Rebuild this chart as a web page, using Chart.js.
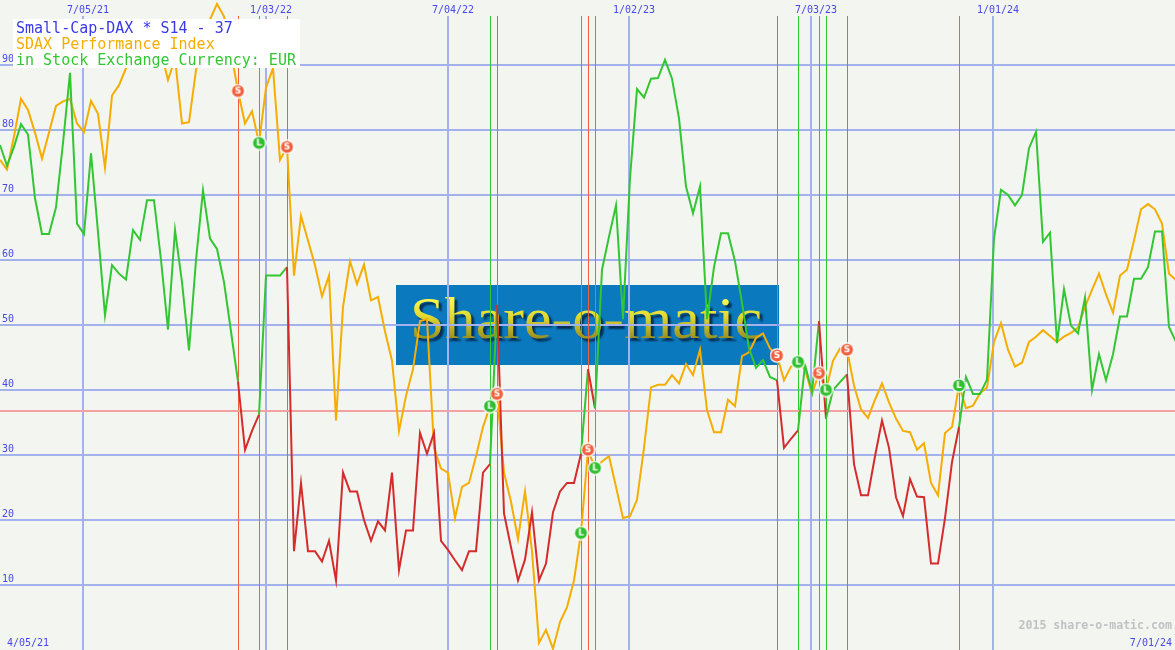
<!DOCTYPE html>
<html><head><meta charset="utf-8">
<script src="https://cdn.jsdelivr.net/npm/chart.js@4/dist/chart.umd.min.js"></script>
<style>html,body{margin:0;padding:0;background:#f3f5f1;overflow:hidden}canvas{display:block}</style>
</head><body>
<div style="width:1175px;height:650px;position:relative"><canvas id="c" width="1175" height="650"></canvas></div>
<script>
// ---- data (x axis in days since 13 Apr 2021; weekly samples) ----
const titleLines = ["Small-Cap-DAX * S14 - 37", "SDAX Performance Index", "in Stock Exchange Currency: EUR"];
const startLabel = "4/05/21";
const endLabel = "7/01/24";
const copyrightText = "2015 share-o-matic.com";
const watermarkText = "Share-o-matic";
const dateTickDays = [83, 266, 448, 629, 811, 993];
const dateTickLabels = ["7/05/21", "1/03/22", "7/04/22", "1/02/23", "7/03/23", "1/01/24"];
const valueTicks = [10, 20, 30, 40, 50, 60, 70, 80, 90];
const daysPerWeek = 7;
const totalDays = 1175;
const thresholdValue = 36.7;

const stockValues = [
77.7,74.5,77.4,80.9,79.3,69.5,64,64,68.1,78,
88.8,65.6,64,76.4,64.3,51.5,59.2,57.9,57,64.6,
63.1,69.2,69.2,60,49.3,64.6,56.6,46.1,60,70.7,
63.3,61.7,56.6,49,41.3,30.8,33.7,36.2,57.6,57.6,
57.6,58.9,15.2,25.7,15.2,15.2,13.6,16.8,10.7,27.3,
24.4,24.4,20,16.8,19.8,18.4,27.3,12.3,18.4,18.4,
33.4,30.2,33.4,16.8,15.4,13.8,12.3,15.2,15.2,27.3,
28.6,53.1,21,15.8,10.7,13.9,21.2,10.7,13.3,21.2,
24.4,25.7,25.7,30.2,43.2,37.2,58.5,63.6,68.4,50.9,
72.6,86.3,85,87.9,88,90.8,87.9,81.8,71.3,67.2,
71.3,50.9,58.9,64.1,64.1,59.8,53.4,46.4,43.4,44.6,
42,41.5,31.1,32.5,33.8,43.9,39.7,50.6,35.6,40,
41.2,42.4,28.6,23.8,23.8,29.8,35.3,31.1,23.5,20.6,
26.3,23.6,23.5,13.3,13.3,20.3,28.9,34.3,42,39.4,
39.4,41.6,63.3,70.8,70,68.4,70,77.2,79.7,62.8,
64.2,47.2,55.5,49.9,48.7,54.2,40,45.5,41.5,45.5,
51.3,51.3,57.1,57.1,58.9,64.4,64.4,49.7,47.4
];
const sdaxValues = [
75.4,73.9,79,84.8,83.1,79.6,75.6,79.6,83.7,84.4,
84.8,81,79.7,84.5,82.5,74.2,85.3,86.9,89.5,92,
95,93,96,92,87.7,91,81,81.2,89.2,94,
97,99.4,97.5,92,86,81,82.9,78,86.5,89.5,
75.4,77.4,57.6,66.8,63,59.2,54.4,57.6,35.3,52.8,
59.8,56.3,59.3,53.8,54.3,49,44.5,33.7,39.1,43.2,
50.6,50.9,31.1,27.9,27.3,20.3,25.1,25.7,29.8,34.3,
37.5,39.4,27.3,22.8,17.1,24.4,15.2,1.1,3.1,0.2,
4.3,6.6,10.7,18,30.8,28,29,29.8,25.1,20.3,
20.6,23.1,31.1,40.4,40.8,40.8,42.3,41,44,42.3,
46.2,36.9,33.5,33.5,38.5,37.5,45.2,45.8,48,48.7,
46.4,45.3,41.5,43.6,44.3,43.2,39.4,42.6,40,44.5,
46.4,46.2,40.7,37,35.7,38.5,41,38.1,35.6,33.7,
33.5,30.8,31.8,25.7,23.8,33.4,34.3,40.7,37.2,37.6,
39.5,40.4,47.4,50.3,46.2,43.6,44.2,47.4,48.2,49.2,
48.3,47.4,48.2,48.8,49.6,52.8,55.4,57.9,54.7,51.9,
57.6,58.5,63,67.8,68.6,67.8,65.6,57.9,56.9
];
const shortSignalWeeks = [34, 41, 71, 84, 111, 117, 121];
const longSignalWeeks  = [37, 70, 83, 85, 114, 118, 137];

// ---- styles ----
const C = {
  bg: '#f3f5f1', grid: '#a3b2ee', label: '#4848e8', orange: '#f5ad00',
  green: '#33c633', red: '#d42c2c', sigRed: '#f0603c', sigGreen: '#2ec82e',
  thresh: '#f2a2a2', copy: '#c2c2c2', wmBox: '#0a79bd'
};

function isShortWeek(i) {
  for (let k = 0; k < shortSignalWeeks.length; k++) {
    const s = shortSignalWeeks[k];
    const e = longSignalWeeks.find(l => l > s);
    if (i >= s && i < (e === undefined ? Infinity : e)) return true;
  }
  return false;
}

function makeMarker(letter, fill) {
  const c = document.createElement('canvas');
  c.width = 15; c.height = 15;
  const g = c.getContext('2d');
  g.beginPath(); g.arc(7.5, 7.5, 7.3, 0, Math.PI * 2); g.fillStyle = '#ffffff'; g.fill();
  g.beginPath(); g.arc(7.5, 7.5, 6, 0, Math.PI * 2); g.fillStyle = fill; g.fill();
  g.fillStyle = '#ffffff'; g.font = 'bold 9px "DejaVu Sans"';
  g.textAlign = 'center'; g.textBaseline = 'middle';
  g.fillText(letter, 7.5, 8);
  return c;
}
const sMarker = makeMarker('S', C.sigRed);
const lMarker = makeMarker('L', '#2fbf2f');

const stockPts = stockValues.map((v, i) => ({ x: i * daysPerWeek, y: v }));
const sdaxPts = sdaxValues.map((v, i) => ({ x: i * daysPerWeek, y: v }));
const shortPts = shortSignalWeeks.map(i => ({ x: i * daysPerWeek, y: sdaxValues[i] }));
const longPts = longSignalWeeks.map(i => ({ x: i * daysPerWeek, y: sdaxValues[i] }));

const decor = {
  id: 'decor',
  beforeDraw(chart) {
    const { ctx, scales: { x, y } } = chart;
    const W = chart.width, H = chart.height;
    ctx.save();
    ctx.fillStyle = C.bg; ctx.fillRect(0, 0, W, H);
    // watermark
    ctx.fillStyle = C.wmBox; ctx.fillRect(396, 285, 383, 80);
    ctx.font = '60px "Liberation Serif"';
    const tw = ctx.measureText(watermarkText).width;
    ctx.save();
    ctx.translate(410, 338);
    ctx.scale(352 / tw, 1);
    ctx.shadowColor = 'rgba(0,20,50,0.75)'; ctx.shadowOffsetX = 3; ctx.shadowOffsetY = 3; ctx.shadowBlur = 2;
    const gr = ctx.createLinearGradient(0, -42, 0, 4);
    gr.addColorStop(0, '#ffff50'); gr.addColorStop(0.45, '#e0d830'); gr.addColorStop(1, '#8c8420');
    ctx.fillStyle = gr; ctx.textBaseline = 'alphabetic';
    ctx.fillText(watermarkText, 0, 0);
    ctx.restore();
    // grid
    ctx.fillStyle = C.grid;
    valueTicks.forEach(v => {
      const py = Math.round(y.getPixelForValue(v));
      ctx.fillRect(0, py - 1, W, 2);
    });
    dateTickDays.forEach(d => {
      const px = Math.round(x.getPixelForValue(d));
      ctx.fillRect(px - 1, 16, 2, H - 16);
    });
    // signal lines
    ctx.fillStyle = C.sigRed;
    shortSignalWeeks.forEach(i => {
      const px = Math.round(x.getPixelForValue(i * daysPerWeek));
      ctx.fillRect(px, 16, 1, H - 16);
    });
    ctx.fillStyle = C.sigGreen;
    longSignalWeeks.forEach(i => {
      const px = Math.round(x.getPixelForValue(i * daysPerWeek));
      ctx.fillRect(px, 16, 1, H - 16);
    });
    // threshold
    ctx.fillStyle = C.thresh;
    const ty = Math.round(y.getPixelForValue(thresholdValue));
    ctx.fillRect(0, ty - 1, W, 2);
    // axis labels
    ctx.fillStyle = C.label; ctx.font = '10px "DejaVu Sans Mono"';
    ctx.textAlign = 'left'; ctx.textBaseline = 'alphabetic';
    valueTicks.forEach(v => {
      ctx.fillText(String(v), 2, Math.round(y.getPixelForValue(v)) - 3);
    });
    dateTickDays.forEach((d, k) => {
      ctx.fillText(dateTickLabels[k], Math.round(x.getPixelForValue(d)) - 16, 13);
    });
    ctx.restore();
  },
  afterDraw(chart) {
    const { ctx } = chart;
    ctx.save();
    ctx.fillStyle = '#ffffff'; ctx.fillRect(13, 19, 287, 49);
    ctx.font = '15px "DejaVu Sans Mono"'; ctx.textAlign = 'left'; ctx.textBaseline = 'alphabetic';
    ctx.fillStyle = '#3a3ae6'; ctx.fillText(titleLines[0], 16, 33);
    ctx.fillStyle = C.orange; ctx.fillText(titleLines[1], 16, 49);
    ctx.fillStyle = C.green; ctx.fillText(titleLines[2], 16, 65);
    ctx.font = 'bold 11.6px "DejaVu Sans Mono"'; ctx.fillStyle = C.copy;
    ctx.textAlign = 'right'; ctx.fillText(copyrightText, 1172, 629);
    ctx.font = '10px "DejaVu Sans Mono"'; ctx.fillStyle = C.label;
    ctx.fillText(endLabel, 1172, 646);
    ctx.textAlign = 'left'; ctx.fillText(startLabel, 7, 646);
    ctx.restore();
  }
};

new Chart(document.getElementById('c'), {
  type: 'line',
  data: {
    datasets: [
      { type: 'scatter', label: 'short', data: shortPts, pointStyle: sMarker, pointRadius: 7, order: 0 },
      { type: 'scatter', label: 'long', data: longPts, pointStyle: lMarker, pointRadius: 7, order: 0 },
      { label: 'stock', data: stockPts, borderWidth: 2, pointRadius: 0, tension: 0, order: 1,
        borderColor: C.green,
        segment: { borderColor: c => isShortWeek(c.p0DataIndex) ? C.red : C.green } },
      { label: 'sdax', data: sdaxPts, borderColor: C.orange, borderWidth: 2, pointRadius: 0, tension: 0, order: 2 }
    ]
  },
  options: {
    responsive: false, animation: false, devicePixelRatio: 1,
    layout: { padding: 0, autoPadding: false },
    plugins: { legend: { display: false }, tooltip: { enabled: false } },
    events: [],
    scales: {
      x: { type: 'linear', min: 0, max: totalDays, display: false },
      y: { min: 0, max: 100, display: false }
    }
  },
  plugins: [decor]
});
</script>
</body></html>
